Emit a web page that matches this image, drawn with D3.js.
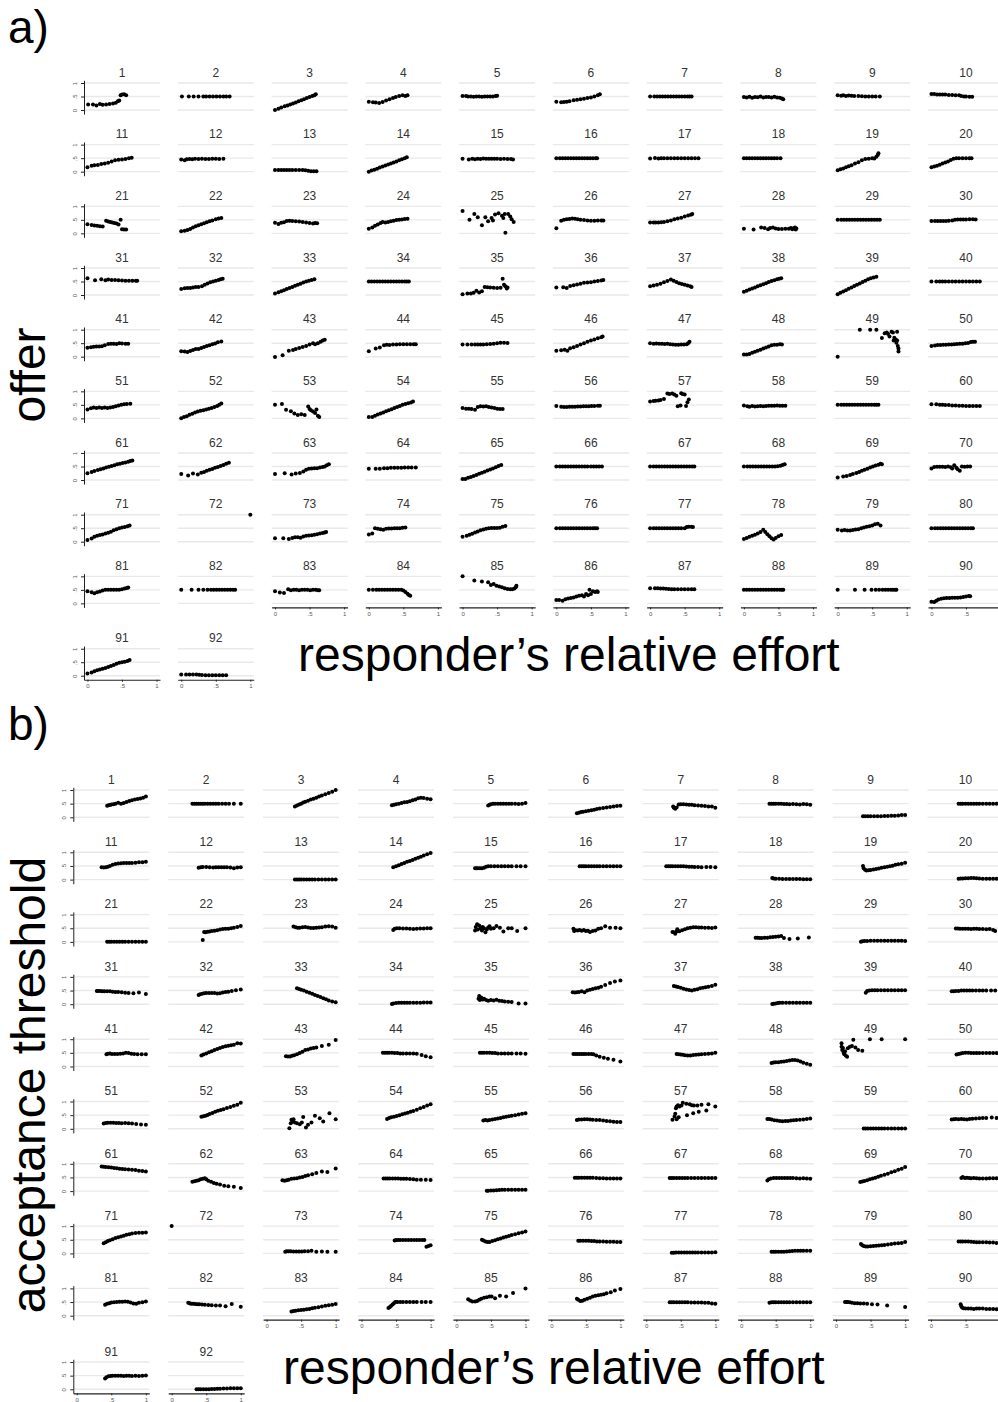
<!DOCTYPE html>
<html>
<head>
<meta charset="utf-8">
<script src="https://cdn.jsdelivr.net/npm/d3@7/dist/d3.min.js"></script>
<style>
  body { margin: 0; background: #fff; }
  svg { display: block; font-family: "Liberation Sans", Arial, sans-serif; }
</style>
</head>
<body>
<div id="chart"></div>
<script>
// responder's relative effort (x) vs. offer (panel a), one small plot per subject
var offerPts = [
  [[.01,.2],[.08,.2],[.13,.17],[.18,.22],[.22,.19],[.27,.2],[.32,.22],[.37,.24],[.41,.27],[.44,.32],[.46,.35],[.48,.55],[.5,.57],[.53,.58],[.56,.55]],
  [[.01,.5],[.11,.5],[.18,.5],[.25,.5],[.32,.5],[.36,.5],[.41,.5],[.46,.5],[.51,.5],[.56,.5],[.61,.5],[.65,.5],[.7,.5]],
  [[0,0],[.05,.05],[.09,.09],[.14,.14],[.18,.17],[.22,.2],[.26,.24],[.3,.28],[.34,.32],[.38,.36],[.42,.4],[.46,.44],[.5,.48],[.54,.52],[.57,.55],[.59,.58]],
  [[0,.31],[.06,.29],[.1,.28],[.15,.26],[.2,.3],[.25,.35],[.3,.4],[.35,.44],[.39,.48],[.44,.52],[.49,.55],[.53,.52],[.56,.55]],
  [[0,.52],[.05,.52],[.08,.5],[.12,.5],[.16,.49],[.2,.5],[.24,.5],[.28,.49],[.32,.5],[.36,.5],[.4,.5],[.44,.5],[.48,.52],[.5,.53]],
  [[0,.31],[.07,.29],[.11,.3],[.15,.31],[.19,.32],[.25,.36],[.3,.38],[.35,.4],[.4,.42],[.45,.44],[.5,.46],[.55,.5],[.6,.55],[.63,.58]],
  [[0,.5],[.06,.5],[.1,.5],[.14,.5],[.18,.5],[.22,.5],[.26,.5],[.3,.5],[.34,.5],[.38,.5],[.42,.5],[.46,.5],[.5,.5],[.54,.5],[.57,.5],[.6,.5]],
  [[0,.48],[.04,.46],[.08,.49],[.12,.45],[.16,.48],[.2,.47],[.24,.5],[.28,.46],[.32,.48],[.36,.48],[.4,.46],[.44,.49],[.48,.46],[.52,.45],[.55,.43],[.57,.4]],
  [[0,.55],[.05,.53],[.08,.55],[.12,.52],[.16,.54],[.2,.53],[.24,.52],[.3,.52],[.35,.51],[.4,.5],[.45,.5],[.5,.5],[.55,.5],[.61,.5]],
  [[0,.59],[.04,.59],[.08,.57],[.12,.57],[.16,.57],[.2,.57],[.25,.56],[.3,.56],[.35,.55],[.4,.55],[.43,.52],[.47,.5],[.5,.5],[.55,.49],[.59,.49]],
  [[0,.16],[.06,.22],[.1,.24],[.15,.25],[.2,.28],[.25,.3],[.3,.33],[.35,.38],[.4,.42],[.45,.44],[.5,.45],[.55,.47],[.6,.5],[.64,.52]],
  [[0,.45],[.05,.42],[.08,.46],[.12,.47],[.16,.46],[.2,.48],[.25,.47],[.3,.48],[.35,.47],[.4,.47],[.45,.48],[.5,.48],[.55,.47],[.61,.48]],
  [[0,.06],[.05,.06],[.09,.06],[.13,.06],[.17,.06],[.21,.06],[.25,.06],[.3,.06],[.35,.06],[.4,.06],[.44,.05],[.48,.03],[.52,.02],[.56,.02],[.6,.02]],
  [[0,0],[.04,.04],[.08,.07],[.12,.11],[.16,.15],[.2,.19],[.24,.23],[.28,.27],[.32,.3],[.36,.34],[.4,.38],[.44,.42],[.48,.46],[.52,.5],[.55,.53]],
  [[0,.48],[.09,.45],[.14,.48],[.18,.46],[.22,.48],[.26,.47],[.3,.49],[.34,.48],[.38,.48],[.42,.48],[.46,.48],[.5,.48],[.55,.47],[.6,.48],[.65,.47],[.7,.47],[.73,.45]],
  [[0,.5],[.05,.5],[.09,.5],[.13,.5],[.17,.5],[.21,.5],[.25,.5],[.29,.5],[.33,.5],[.37,.5],[.41,.5],[.45,.5],[.49,.5],[.53,.5],[.57,.5],[.59,.5]],
  [[0,.49],[.07,.51],[.12,.49],[.16,.5],[.2,.5],[.25,.5],[.3,.5],[.35,.5],[.4,.5],[.45,.5],[.5,.5],[.55,.5],[.6,.5],[.65,.5],[.7,.5]],
  [[0,.5],[.04,.5],[.08,.5],[.12,.5],[.16,.5],[.2,.5],[.24,.5],[.28,.5],[.32,.5],[.36,.5],[.4,.5],[.44,.5],[.48,.5],[.53,.5]],
  [[0,.05],[.04,.09],[.08,.12],[.12,.16],[.16,.2],[.2,.24],[.25,.3],[.3,.35],[.35,.42],[.4,.47],[.45,.48],[.5,.5],[.53,.49],[.56,.55],[.58,.62],[.59,.68]],
  [[0,.16],[.04,.19],[.08,.22],[.12,.26],[.16,.3],[.2,.34],[.24,.38],[.28,.43],[.32,.48],[.36,.5],[.4,.5],[.45,.5],[.5,.5],[.55,.5],[.58,.5]],
  [[0,.34],[.06,.31],[.1,.29],[.14,.28],[.18,.26],[.22,.25],[.27,.47],[.3,.44],[.33,.42],[.36,.4],[.39,.38],[.42,.36],[.45,.33],[.48,.5],[.5,.15],[.53,.14],[.56,.14]],
  [[0,.08],[.05,.1],[.09,.12],[.13,.16],[.17,.22],[.21,.26],[.25,.3],[.29,.34],[.33,.37],[.37,.41],[.41,.45],[.45,.48],[.5,.52],[.54,.55],[.58,.57]],
  [[0,.39],[.05,.35],[.09,.39],[.13,.41],[.17,.46],[.21,.47],[.25,.46],[.3,.45],[.35,.44],[.4,.42],[.45,.4],[.5,.38],[.55,.36],[.58,.38],[.61,.37]],
  [[0,.17],[.05,.22],[.09,.28],[.13,.33],[.17,.38],[.2,.42],[.24,.4],[.28,.42],[.32,.45],[.36,.47],[.4,.49],[.44,.5],[.48,.51],[.52,.53],[.56,.54]],
  [[0,.83],[.1,.5],[.17,.72],[.22,.6],[.28,.3],[.33,.6],[.37,.45],[.42,.57],[.44,.48],[.47,.7],[.52,.74],[.57,.65],[.59,.57],[.61,.72],[.62,.02],[.66,.72],[.69,.62],[.71,.52],[.74,.42]],
  [[0,.19],[.07,.47],[.11,.5],[.15,.52],[.19,.53],[.23,.55],[.27,.54],[.31,.52],[.35,.5],[.4,.49],[.45,.48],[.5,.47],[.55,.47],[.6,.48],[.65,.48],[.68,.48]],
  [[0,.4],[.05,.4],[.08,.4],[.12,.4],[.16,.41],[.2,.42],[.25,.45],[.3,.48],[.35,.52],[.4,.55],[.45,.58],[.5,.62],[.55,.66],[.59,.69],[.61,.72]],
  [[0,.17],[.14,.14],[.25,.22],[.3,.2],[.35,.15],[.38,.2],[.42,.22],[.46,.18],[.5,.16],[.55,.16],[.6,.17],[.65,.17],[.68,.2],[.7,.15],[.72,.19],[.74,.22],[.75,.14],[.76,.18]],
  [[0,.5],[.05,.5],[.09,.5],[.13,.5],[.17,.5],[.21,.5],[.25,.5],[.29,.5],[.33,.5],[.37,.5],[.41,.5],[.45,.5],[.49,.5],[.53,.5],[.57,.5],[.61,.5]],
  [[0,.46],[.05,.46],[.09,.46],[.13,.46],[.17,.46],[.21,.46],[.25,.47],[.3,.48],[.34,.5],[.38,.51],[.42,.51],[.46,.51],[.5,.51],[.55,.52],[.6,.52],[.64,.51]],
  [[0,.62],[.11,.55],[.2,.58],[.26,.55],[.3,.57],[.35,.56],[.4,.56],[.45,.55],[.5,.54],[.55,.53],[.6,.53],[.65,.53],[.7,.53],[.72,.53]],
  [[0,.22],[.05,.25],[.09,.26],[.13,.26],[.17,.28],[.21,.3],[.25,.3],[.3,.32],[.34,.38],[.38,.43],[.42,.47],[.46,.5],[.5,.53],[.54,.56],[.57,.58],[.6,.6]],
  [[0,.06],[.05,.1],[.09,.14],[.13,.18],[.17,.22],[.21,.26],[.25,.3],[.29,.34],[.33,.38],[.37,.42],[.41,.46],[.45,.5],[.49,.53],[.53,.56],[.57,.58]],
  [[0,.5],[.04,.5],[.08,.5],[.12,.5],[.16,.5],[.2,.5],[.24,.5],[.28,.5],[.32,.5],[.36,.5],[.4,.5],[.44,.5],[.48,.5],[.52,.5],[.55,.5],[.58,.5]],
  [[0,.03],[.07,.06],[.12,.06],[.16,.08],[.2,.16],[.24,.09],[.28,.14],[.32,.3],[.36,.29],[.4,.28],[.45,.27],[.5,.26],[.55,.27],[.58,.6],[.6,.38],[.62,.32],[.64,.24],[.65,.28]],
  [[0,.28],[.1,.29],[.15,.26],[.2,.33],[.25,.36],[.3,.39],[.35,.42],[.4,.45],[.45,.46],[.5,.47],[.55,.5],[.6,.52],[.65,.54],[.68,.56]],
  [[0,.32],[.05,.35],[.1,.38],[.15,.42],[.2,.47],[.25,.52],[.3,.57],[.34,.53],[.38,.48],[.42,.44],[.46,.41],[.5,.38],[.54,.35],[.58,.32],[.6,.3]],
  [[0,.12],[.04,.16],[.08,.2],[.12,.24],[.16,.28],[.2,.32],[.24,.36],[.28,.4],[.32,.44],[.36,.48],[.4,.52],[.44,.55],[.48,.58],[.51,.6],[.54,.62]],
  [[0,.03],[.04,.08],[.08,.13],[.12,.18],[.16,.23],[.2,.28],[.24,.33],[.28,.38],[.32,.43],[.36,.48],[.4,.53],[.44,.58],[.48,.62],[.52,.65],[.56,.68]],
  [[0,.5],[.07,.5],[.12,.5],[.16,.5],[.2,.5],[.25,.5],[.3,.5],[.35,.5],[.4,.5],[.45,.5],[.5,.5],[.55,.5],[.6,.5],[.65,.5],[.7,.5]],
  [[0,.33],[.05,.35],[.09,.37],[.13,.38],[.17,.38],[.21,.39],[.25,.42],[.3,.47],[.34,.48],[.38,.48],[.42,.47],[.46,.5],[.5,.49],[.55,.48],[.59,.48]],
  [[0,.2],[.05,.19],[.09,.17],[.13,.21],[.17,.25],[.21,.28],[.25,.28],[.29,.32],[.33,.36],[.37,.4],[.41,.42],[.45,.46],[.49,.49],[.53,.53],[.58,.56]],
  [[0,-.01],[.11,.05],[.2,.22],[.26,.25],[.3,.28],[.35,.32],[.4,.36],[.45,.4],[.5,.45],[.55,.5],[.58,.46],[.62,.5],[.66,.55],[.69,.6],[.72,.63]],
  [[0,.2],[.1,.3],[.16,.34],[.22,.42],[.26,.44],[.3,.43],[.35,.45],[.4,.45],[.45,.46],[.5,.46],[.55,.46],[.6,.46],[.65,.46],[.68,.46]],
  [[0,.45],[.07,.45],[.13,.45],[.18,.45],[.22,.45],[.26,.45],[.3,.45],[.35,.46],[.4,.47],[.45,.48],[.5,.5],[.55,.52],[.6,.52],[.65,.51]],
  [[0,.22],[.07,.24],[.12,.26],[.16,.22],[.2,.31],[.25,.35],[.3,.4],[.35,.45],[.4,.5],[.45,.55],[.5,.6],[.55,.64],[.6,.68],[.65,.72],[.67,.75]],
  [[0,.5],[.05,.48],[.09,.49],[.13,.48],[.17,.48],[.21,.47],[.25,.48],[.29,.46],[.33,.45],[.37,.44],[.41,.44],[.45,.45],[.49,.45],[.53,.46],[.55,.5],[.57,.55]],
  [[0,.08],[.04,.08],[.08,.1],[.12,.15],[.16,.18],[.2,.22],[.24,.26],[.28,.3],[.32,.34],[.36,.38],[.4,.42],[.44,.44],[.48,.44],[.52,.46],[.55,.45]],
  [[0,0],[.32,1],[.47,1],[.56,1],[.64,.69],[.68,.87],[.71,.9],[.73,.84],[.75,.75],[.78,.92],[.8,.9],[.81,.6],[.82,.7],[.84,.64],[.85,.52],[.86,.6],[.87,.4],[.88,.3],[.88,.19],[.86,.92]],
  [[0,.4],[.05,.41],[.09,.43],[.13,.43],[.17,.44],[.21,.44],[.25,.45],[.29,.45],[.33,.46],[.37,.47],[.41,.48],[.45,.48],[.49,.5],[.53,.51],[.57,.54],[.6,.55],[.63,.55]],
  [[0,.33],[.05,.37],[.09,.4],[.13,.38],[.17,.4],[.21,.38],[.25,.4],[.29,.38],[.33,.4],[.37,.42],[.41,.45],[.45,.48],[.49,.5],[.53,.52],[.57,.53],[.62,.54]],
  [[0,0],[.04,.05],[.08,.08],[.12,.13],[.16,.17],[.2,.22],[.24,.25],[.28,.28],[.32,.3],[.36,.33],[.4,.36],[.44,.38],[.48,.42],[.52,.46],[.55,.5],[.58,.55]],
  [[0,.5],[.1,.53],[.16,.32],[.23,.26],[.28,.18],[.33,.12],[.38,.15],[.43,.12],[.48,.44],[.5,.35],[.52,.3],[.55,.25],[.58,.2],[.6,.33],[.62,.1],[.64,.05]],
  [[0,.05],[.05,.05],[.09,.1],[.13,.14],[.17,.18],[.21,.22],[.25,.26],[.29,.3],[.33,.34],[.37,.38],[.41,.42],[.45,.46],[.49,.5],[.53,.53],[.57,.56],[.61,.59],[.64,.62]],
  [[0,.38],[.05,.36],[.09,.36],[.13,.35],[.18,.32],[.22,.42],[.26,.45],[.3,.44],[.34,.45],[.38,.42],[.42,.4],[.46,.38],[.5,.36],[.54,.35],[.58,.35]],
  [[0,.46],[.07,.43],[.11,.42],[.15,.42],[.19,.43],[.23,.43],[.27,.43],[.31,.44],[.35,.44],[.39,.45],[.43,.45],[.47,.45],[.51,.46],[.55,.46],[.6,.47],[.63,.47]],
  [[0,.62],[.05,.64],[.08,.65],[.12,.66],[.15,.68],[.2,.72],[.25,.92],[.28,.9],[.32,.92],[.35,.88],[.38,.84],[.45,.93],[.47,.9],[.5,.88],[.4,.45],[.44,.48],[.52,.46],[.54,.6],[.56,.7]],
  [[0,.48],[.05,.45],[.08,.43],[.12,.46],[.16,.44],[.2,.45],[.24,.46],[.28,.45],[.32,.46],[.36,.47],[.4,.47],[.44,.47],[.48,.48],[.52,.47],[.56,.47],[.6,.47]],
  [[0,.5],[.05,.5],[.09,.5],[.13,.5],[.17,.5],[.21,.5],[.25,.5],[.29,.5],[.33,.5],[.37,.5],[.41,.5],[.45,.5],[.49,.5],[.53,.5],[.56,.5],[.59,.5]],
  [[0,.52],[.07,.52],[.12,.5],[.16,.5],[.2,.49],[.25,.49],[.3,.48],[.35,.48],[.4,.47],[.45,.47],[.5,.46],[.55,.46],[.6,.46],[.65,.46],[.7,.46]],
  [[0,.25],[.06,.3],[.1,.33],[.15,.37],[.19,.4],[.23,.43],[.27,.46],[.31,.49],[.35,.52],[.39,.55],[.43,.58],[.47,.6],[.51,.63],[.55,.65],[.59,.68],[.62,.7],[.65,.72]],
  [[0,.22],[.1,.17],[.17,.24],[.24,.2],[.29,.27],[.33,.3],[.37,.34],[.41,.38],[.45,.41],[.49,.45],[.53,.48],[.57,.52],[.61,.56],[.65,.6],[.69,.64]],
  [[0,.22],[.14,.25],[.24,.2],[.3,.24],[.36,.26],[.41,.32],[.45,.38],[.49,.42],[.53,.43],[.57,.44],[.61,.44],[.65,.46],[.69,.48],[.72,.5],[.75,.55],[.78,.58]],
  [[0,.42],[.1,.42],[.16,.42],[.22,.44],[.27,.44],[.32,.45],[.37,.45],[.42,.45],[.47,.45],[.52,.46],[.57,.46],[.62,.46],[.68,.46]],
  [[0,.04],[.04,.04],[.08,.08],[.12,.11],[.16,.15],[.2,.19],[.24,.23],[.28,.27],[.32,.31],[.36,.35],[.4,.39],[.44,.43],[.48,.47],[.52,.52],[.56,.56]],
  [[0,.5],[.05,.5],[.09,.5],[.13,.5],[.17,.5],[.21,.5],[.25,.5],[.29,.5],[.33,.5],[.37,.5],[.41,.5],[.45,.5],[.5,.5],[.54,.5],[.58,.5],[.62,.5],[.66,.5]],
  [[0,.5],[.05,.5],[.09,.5],[.13,.5],[.17,.5],[.21,.5],[.25,.5],[.29,.5],[.33,.5],[.37,.5],[.41,.5],[.45,.5],[.49,.5],[.53,.5],[.57,.5],[.61,.5],[.64,.5]],
  [[0,.5],[.05,.5],[.09,.5],[.13,.5],[.17,.5],[.21,.5],[.25,.5],[.29,.5],[.33,.5],[.37,.5],[.41,.5],[.45,.5],[.49,.51],[.53,.53],[.56,.56],[.59,.58]],
  [[0,.09],[.08,.13],[.13,.15],[.18,.19],[.22,.22],[.27,.26],[.31,.3],[.35,.34],[.39,.38],[.43,.42],[.47,.46],[.51,.5],[.55,.54],[.59,.57],[.62,.6],[.64,.58]],
  [[0,.43],[.04,.48],[.08,.49],[.12,.49],[.16,.49],[.2,.48],[.24,.5],[.28,.47],[.3,.43],[.33,.55],[.36,.45],[.38,.4],[.41,.34],[.44,.5],[.48,.49],[.52,.5],[.56,.5]],
  [[0,.06],[.06,.12],[.1,.18],[.14,.22],[.18,.25],[.22,.27],[.26,.3],[.3,.33],[.34,.37],[.38,.42],[.42,.46],[.46,.5],[.5,.53],[.54,.54],[.58,.57],[.61,.6]],
  [[1,1]],
  [[0,.13],[.12,.13],[.2,.1],[.25,.14],[.29,.16],[.33,.16],[.37,.15],[.41,.19],[.45,.22],[.49,.23],[.53,.24],[.57,.26],[.61,.28],[.65,.3],[.69,.32],[.72,.34],[.74,.36]],
  [[0,.27],[.05,.3],[.09,.5],[.13,.48],[.17,.46],[.21,.44],[.25,.48],[.29,.49],[.33,.49],[.37,.5],[.41,.5],[.45,.5],[.49,.52],[.53,.53]],
  [[0,.18],[.06,.22],[.1,.26],[.14,.29],[.18,.34],[.22,.38],[.26,.42],[.3,.45],[.34,.48],[.38,.5],[.42,.51],[.46,.51],[.5,.51],[.54,.52],[.58,.55],[.62,.58]],
  [[0,.5],[.05,.5],[.09,.5],[.13,.5],[.17,.5],[.21,.5],[.25,.5],[.29,.5],[.33,.5],[.37,.5],[.41,.5],[.45,.5],[.49,.5],[.53,.5],[.56,.5],[.59,.5]],
  [[0,.5],[.05,.5],[.09,.5],[.13,.5],[.17,.5],[.21,.5],[.25,.5],[.29,.5],[.33,.5],[.37,.5],[.41,.5],[.45,.5],[.5,.5],[.53,.54],[.56,.55],[.6,.55],[.62,.54]],
  [[0,.1],[.04,.14],[.08,.18],[.12,.22],[.16,.26],[.2,.3],[.24,.36],[.28,.44],[.31,.36],[.34,.28],[.37,.2],[.4,.13],[.43,.08],[.46,.14],[.5,.2],[.54,.25]],
  [[0,.44],[.06,.41],[.1,.43],[.14,.41],[.18,.41],[.22,.43],[.26,.45],[.3,.46],[.34,.5],[.38,.53],[.42,.55],[.46,.57],[.5,.6],[.54,.65],[.58,.66],[.62,.6]],
  [[0,.5],[.05,.5],[.09,.5],[.13,.5],[.17,.5],[.21,.5],[.25,.5],[.29,.5],[.33,.5],[.37,.5],[.41,.5],[.45,.5],[.49,.5],[.53,.5],[.57,.5],[.6,.5]],
  [[0,.45],[.06,.41],[.1,.37],[.14,.41],[.18,.44],[.22,.48],[.26,.5],[.3,.5],[.34,.5],[.38,.5],[.42,.5],[.46,.5],[.5,.52],[.54,.55],[.57,.57],[.59,.59]],
  [[0,.5],[.15,.5],[.25,.5],[.32,.5],[.38,.5],[.43,.5],[.47,.5],[.51,.5],[.55,.5],[.59,.5],[.63,.5],[.67,.5],[.71,.5],[.75,.5],[.78,.5]],
  [[0,.45],[.07,.4],[.13,.38],[.19,.52],[.23,.49],[.27,.5],[.31,.5],[.35,.49],[.39,.5],[.43,.5],[.47,.5],[.51,.49],[.55,.5],[.59,.5],[.62,.49],[.64,.49]],
  [[0,.5],[.06,.5],[.11,.5],[.15,.5],[.19,.5],[.23,.5],[.27,.5],[.31,.5],[.35,.5],[.39,.5],[.43,.5],[.47,.5],[.5,.48],[.53,.42],[.56,.36],[.58,.31],[.6,.28]],
  [[0,1],[.17,.85],[.28,.81],[.37,.78],[.41,.68],[.45,.72],[.49,.65],[.53,.62],[.57,.6],[.61,.56],[.65,.53],[.69,.52],[.72,.52],[.75,.55],[.77,.6],[.78,.65]],
  [[0,.12],[.04,.12],[.09,.1],[.13,.15],[.17,.18],[.21,.2],[.25,.22],[.29,.25],[.33,.28],[.37,.3],[.4,.25],[.43,.35],[.46,.3],[.48,.5],[.5,.35],[.53,.45],[.56,.42],[.59,.45],[.6,.42]],
  [[0,.56],[.07,.56],[.11,.56],[.15,.55],[.19,.55],[.23,.54],[.27,.53],[.31,.52],[.35,.52],[.4,.52],[.45,.52],[.5,.52],[.55,.52],[.6,.52],[.64,.52]],
  [[0,.5],[.04,.5],[.08,.5],[.12,.5],[.16,.5],[.2,.5],[.24,.5],[.28,.5],[.32,.5],[.36,.5],[.4,.5],[.44,.5],[.48,.5],[.52,.5],[.55,.5],[.57,.5]],
  [[0,.5],[.25,.5],[.39,.5],[.49,.5],[.55,.5],[.6,.5],[.65,.5],[.69,.5],[.73,.5],[.77,.5],[.8,.5],[.83,.5],[.85,.5]],
  [[0,.06],[.04,.05],[.07,.1],[.1,.14],[.14,.17],[.18,.19],[.22,.2],[.26,.2],[.3,.21],[.34,.21],[.38,.21],[.42,.22],[.46,.24],[.5,.25],[.54,.27],[.56,.26]],
  [[0,.08],[.06,.12],[.1,.17],[.14,.2],[.18,.23],[.22,.26],[.26,.29],[.3,.32],[.34,.36],[.38,.4],[.42,.44],[.46,.48],[.5,.5],[.54,.52],[.58,.55],[.61,.58]],
  [[0,.05],[.07,.05],[.12,.05],[.17,.05],[.22,.05],[.26,.04],[.3,.03],[.35,.02],[.4,.02],[.45,.02],[.5,.02],[.55,.02],[.6,.02],[.65,.02]]
];

// responder's relative effort (x) vs. acceptance threshold (panel b)
var thresholdPts = [
  [[.44,.42],[.46,.44],[.48,.45],[.5,.47],[.53,.48],[.56,.5],[.6,.53],[.64,.5],[.68,.52],[.72,.56],[.76,.6],[.8,.62],[.84,.65],[.88,.67],[.92,.69],[.96,.72],[1,.76]],
  [[.3,.5],[.33,.5],[.36,.5],[.39,.5],[.42,.5],[.45,.5],[.48,.5],[.52,.5],[.56,.5],[.6,.5],[.64,.5],[.68,.5],[.73,.5],[.78,.5],[.83,.5],[.9,.5],[1,.5]],
  [[.41,.4],[.44,.43],[.47,.47],[.5,.5],[.53,.54],[.56,.57],[.6,.61],[.64,.65],[.68,.68],[.72,.72],[.76,.76],[.8,.8],[.85,.84],[.9,.89],[.95,.94],[1,1]],
  [[.44,.44],[.47,.46],[.5,.48],[.54,.5],[.58,.52],[.62,.55],[.66,.56],[.7,.59],[.74,.62],[.78,.65],[.82,.7],[.86,.72],[.9,.71],[.95,.68],[1,.66]],
  [[.46,.43],[.48,.46],[.5,.48],[.53,.5],[.56,.5],[.6,.5],[.64,.5],[.68,.5],[.72,.5],[.76,.5],[.8,.5],[.85,.5],[.9,.49],[.95,.5],[1,.52]],
  [[.37,.15],[.4,.17],[.43,.19],[.46,.2],[.5,.22],[.54,.24],[.58,.26],[.62,.28],[.66,.3],[.7,.32],[.75,.34],[.8,.36],[.85,.38],[.9,.4],[.95,.41],[1,.42]],
  [[.39,.4],[.4,.35],[.42,.31],[.44,.36],[.47,.47],[.5,.48],[.54,.48],[.58,.47],[.62,.46],[.66,.46],[.7,.44],[.75,.43],[.8,.42],[.85,.41],[.9,.4],[.95,.4],[1,.35]],
  [[.41,.5],[.44,.5],[.47,.5],[.5,.5],[.54,.5],[.58,.5],[.62,.49],[.66,.49],[.7,.48],[.75,.49],[.8,.48],[.85,.47],[.9,.49],[.95,.48],[1,.46]],
  [[.39,.04],[.42,.04],[.46,.04],[.5,.04],[.55,.04],[.6,.04],[.65,.04],[.7,.05],[.75,.05],[.8,.06],[.85,.06],[.9,.07],[.95,.08],[1,.08]],
  [[.4,.5],[.43,.5],[.46,.5],[.5,.5],[.54,.5],[.58,.5],[.62,.5],[.66,.5],[.7,.5],[.75,.5],[.8,.5],[.85,.5],[.9,.5],[.95,.5],[1,.5]],
  [[.36,.45],[.39,.44],[.42,.45],[.45,.47],[.48,.5],[.52,.54],[.56,.57],[.6,.59],[.64,.6],[.68,.61],[.72,.61],[.76,.61],[.8,.61],[.85,.62],[.9,.64],[.95,.64],[1,.65]],
  [[.39,.43],[.42,.45],[.45,.46],[.5,.46],[.55,.45],[.6,.44],[.64,.45],[.68,.45],[.72,.45],[.76,.45],[.8,.45],[.85,.44],[.9,.42],[.95,.44],[1,.45]],
  [[.41,0],[.44,0],[.47,0],[.5,0],[.54,0],[.58,0],[.62,0],[.66,0],[.7,0],[.75,0],[.8,0],[.85,0],[.9,0],[.95,0],[1,0]],
  [[.46,.45],[.5,.49],[.54,.53],[.58,.57],[.62,.61],[.66,.65],[.7,.68],[.74,.72],[.78,.76],[.82,.8],[.86,.84],[.9,.88],[.95,.93],[1,.97]],
  [[.27,.42],[.29,.42],[.31,.42],[.34,.42],[.37,.42],[.4,.43],[.43,.47],[.46,.49],[.5,.49],[.55,.49],[.6,.49],[.65,.49],[.7,.49],[.75,.49],[.8,.49],[.87,.49],[.93,.49],[1,.49]],
  [[.41,.49],[.44,.49],[.47,.49],[.5,.49],[.54,.49],[.58,.49],[.62,.49],[.66,.49],[.7,.49],[.75,.49],[.8,.49],[.85,.49],[.9,.49],[.95,.49],[1,.49]],
  [[.29,.49],[.32,.49],[.35,.49],[.38,.49],[.42,.49],[.46,.49],[.5,.49],[.54,.49],[.58,.48],[.62,.47],[.66,.47],[.7,.46],[.75,.46],[.8,.45],[.87,.46],[.93,.46],[1,.45]],
  [[.45,.06],[.47,.04],[.5,.03],[.55,.03],[.6,.02],[.65,.02],[.7,.02],[.75,.02],[.8,.02],[.85,.02],[.9,.01],[.95,.01],[1,.01]],
  [[.39,.5],[.4,.42],[.42,.36],[.44,.33],[.47,.34],[.5,.35],[.54,.37],[.58,.39],[.62,.41],[.66,.43],[.7,.45],[.74,.47],[.78,.49],[.82,.51],[.86,.54],[.9,.56],[.95,.58],[1,.62]],
  [[.4,.03],[.43,.04],[.46,.04],[.5,.05],[.54,.05],[.58,.06],[.62,.06],[.66,.05],[.7,.04],[.75,.03],[.8,.03],[.85,.03],[.9,.03],[.95,.03],[1,.03]],
  [[.44,.01],[.47,.01],[.5,.01],[.54,.01],[.58,.01],[.62,.01],[.66,.01],[.7,.01],[.75,.01],[.8,.01],[.85,.01],[.9,.01],[.95,.01],[1,.01]],
  [[.45,.07],[.47,.36],[.49,.35],[.52,.37],[.55,.38],[.58,.4],[.62,.41],[.66,.43],[.7,.45],[.74,.47],[.78,.48],[.82,.48],[.86,.5],[.9,.52],[.95,.55],[1,.58]],
  [[.39,.56],[.42,.54],[.45,.52],[.48,.52],[.52,.54],[.56,.55],[.6,.53],[.64,.51],[.68,.51],[.72,.52],[.76,.53],[.8,.54],[.85,.56],[.9,.57],[.95,.56],[1,.52]],
  [[.46,.44],[.48,.48],[.51,.5],[.55,.5],[.6,.49],[.65,.49],[.7,.48],[.75,.47],[.8,.48],[.85,.49],[.9,.49],[.95,.5],[1,.5]],
  [[.27,.42],[.28,.55],[.3,.65],[.31,.45],[.33,.6],[.35,.5],[.37,.42],[.38,.55],[.4,.5],[.42,.35],[.44,.45],[.46,.53],[.48,.57],[.5,.48],[.54,.5],[.58,.58],[.63,.52],[.68,.38],[.75,.5],[.8,.5],[.88,.4],[1,.5]],
  [[.32,.48],[.33,.4],[.35,.43],[.38,.42],[.41,.44],[.44,.41],[.47,.44],[.5,.4],[.53,.41],[.56,.36],[.6,.4],[.64,.42],[.68,.48],[.72,.5],[.78,.57],[.85,.52],[.93,.52],[1,.5]],
  [[.38,.36],[.4,.35],[.42,.3],[.44,.38],[.45,.46],[.48,.39],[.52,.43],[.56,.46],[.6,.5],[.64,.52],[.68,.54],[.72,.54],[.76,.53],[.8,.53],[.85,.52],[.9,.52],[.95,.51],[1,.53]],
  [[.21,.15],[.24,.15],[.27,.14],[.3,.14],[.34,.15],[.38,.15],[.42,.17],[.46,.18],[.5,.19],[.54,.2],[.58,.22],[.62,.14],[.7,.11],[.82,.12],[.98,.16]],
  [[.36,.01],[.38,.02],[.41,.03],[.45,.03],[.5,.04],[.55,.04],[.6,.04],[.65,.04],[.7,.04],[.75,.04],[.8,.04],[.85,.04],[.9,.04],[.95,.04],[1,.03]],
  [[.36,.49],[.39,.49],[.42,.48],[.46,.48],[.5,.48],[.54,.48],[.58,.47],[.62,.48],[.66,.48],[.7,.47],[.75,.47],[.8,.46],[.85,.47],[.9,.44],[.93,.4]],
  [[.29,.48],[.31,.48],[.34,.48],[.37,.47],[.4,.47],[.44,.47],[.48,.47],[.52,.46],[.56,.45],[.6,.45],[.65,.44],[.7,.42],[.75,.41],[.82,.4],[.9,.43],[1,.37]],
  [[.39,.34],[.41,.36],[.44,.38],[.47,.4],[.5,.41],[.54,.41],[.58,.41],[.62,.41],[.66,.39],[.7,.4],[.74,.43],[.78,.45],[.82,.46],[.87,.48],[.93,.51],[1,.54]],
  [[.44,.58],[.47,.56],[.5,.53],[.54,.5],[.58,.46],[.62,.42],[.66,.38],[.7,.34],[.74,.3],[.78,.26],[.82,.22],[.86,.18],[.9,.14],[.95,.1],[1,.07]],
  [[.44,.01],[.46,.03],[.5,.04],[.54,.05],[.58,.05],[.62,.05],[.66,.05],[.7,.05],[.75,.05],[.8,.05],[.85,.05],[.9,.06],[.95,.06],[1,.06]],
  [[.32,.2],[.33,.3],[.34,.15],[.36,.25],[.38,.17],[.4,.2],[.43,.15],[.46,.13],[.5,.15],[.54,.14],[.58,.16],[.62,.13],[.66,.12],[.7,.1],[.75,.09],[.8,.08],[.9,.03],[1,.03]],
  [[.31,.44],[.34,.43],[.37,.44],[.4,.45],[.44,.47],[.48,.44],[.52,.5],[.56,.53],[.6,.56],[.64,.58],[.68,.6],[.72,.64],[.78,.7],[.85,.78],[.92,.83],[1,.87]],
  [[.4,.67],[.43,.65],[.46,.63],[.5,.6],[.54,.57],[.58,.54],[.62,.52],[.66,.5],[.7,.53],[.74,.55],[.78,.58],[.82,.6],[.86,.62],[.9,.64],[.95,.67],[1,.71]],
  [[.45,.01],[.47,.02],[.5,.03],[.53,.04],[.56,.05],[.6,.05],[.65,.05],[.7,.05],[.75,.05],[.8,.05],[.85,.05],[.9,.05],[.95,.05],[1,.05]],
  [[.43,.42],[.45,.48],[.48,.5],[.52,.51],[.56,.51],[.6,.51],[.65,.51],[.7,.51],[.75,.51],[.8,.51],[.85,.51],[.9,.51],[.95,.51],[1,.51]],
  [[.3,.47],[.33,.47],[.36,.48],[.4,.48],[.44,.5],[.48,.5],[.52,.5],[.56,.5],[.6,.5],[.65,.5],[.7,.5],[.75,.5],[.8,.5],[.87,.5],[.93,.5],[1,.5]],
  [[.43,.45],[.45,.47],[.48,.48],[.51,.46],[.55,.46],[.59,.46],[.63,.47],[.67,.48],[.71,.5],[.75,.49],[.79,.47],[.83,.46],[.88,.45],[.94,.45],[1,.45]],
  [[.43,.4],[.46,.44],[.5,.48],[.54,.52],[.58,.56],[.62,.6],[.66,.64],[.7,.68],[.74,.71],[.78,.74],[.82,.76],[.86,.78],[.9,.8],[.95,.85],[1,.84]],
  [[.28,.38],[.31,.37],[.34,.37],[.37,.39],[.4,.41],[.44,.45],[.48,.49],[.52,.54],[.56,.6],[.6,.62],[.64,.66],[.68,.68],[.72,.7],[.8,.75],[.9,.8],[1,.97]],
  [[.31,.5],[.34,.5],[.37,.5],[.4,.5],[.44,.5],[.48,.49],[.52,.49],[.56,.48],[.6,.48],[.65,.48],[.7,.48],[.75,.48],[.8,.47],[.87,.42],[.93,.38],[1,.34]],
  [[.34,.5],[.37,.5],[.4,.5],[.44,.5],[.48,.5],[.52,.49],[.56,.49],[.6,.48],[.65,.48],[.7,.48],[.75,.48],[.8,.48],[.87,.48],[.93,.48],[1,.47]],
  [[.32,.46],[.35,.46],[.38,.46],[.41,.46],[.44,.46],[.47,.46],[.5,.46],[.54,.46],[.58,.46],[.61,.45],[.65,.4],[.7,.36],[.76,.32],[.82,.28],[.9,.25],[1,.18]],
  [[.44,.46],[.47,.45],[.5,.44],[.53,.43],[.56,.41],[.6,.4],[.64,.4],[.68,.42],[.72,.43],[.76,.44],[.8,.45],[.85,.46],[.9,.47],[.95,.48],[1,.5]],
  [[.44,.13],[.47,.15],[.5,.16],[.54,.16],[.58,.17],[.62,.18],[.66,.2],[.7,.22],[.74,.24],[.78,.24],[.82,.22],[.86,.18],[.9,.14],[.95,.1],[1,.06]],
  [[.08,.85],[.08,.72],[.09,.6],[.1,.68],[.11,.5],[.12,.45],[.13,.56],[.14,.4],[.16,.36],[.17,.67],[.2,.72],[.23,.75],[.25,.98],[.28,.7],[.32,.6],[.38,.58],[.49,1],[.66,1],[1,1]],
  [[.37,.44],[.4,.46],[.43,.48],[.46,.49],[.5,.5],[.54,.5],[.58,.49],[.62,.49],[.66,.49],[.7,.49],[.75,.49],[.8,.49],[.85,.49],[.9,.49],[.95,.49],[1,.49]],
  [[.39,.19],[.42,.21],[.45,.22],[.49,.22],[.53,.22],[.57,.21],[.61,.21],[.65,.2],[.7,.21],[.75,.2],[.8,.19],[.86,.18],[.93,.16],[1,.15]],
  [[.43,.44],[.46,.46],[.49,.48],[.52,.51],[.55,.54],[.59,.58],[.63,.62],[.67,.66],[.71,.69],[.75,.72],[.8,.76],[.85,.8],[.9,.84],[.95,.88],[1,.95]],
  [[.33,.02],[.35,.2],[.36,.33],[.38,.27],[.39,.35],[.41,.23],[.44,.2],[.48,.17],[.51,.23],[.53,.43],[.57,.05],[.6,.15],[.65,.23],[.7,.48],[.77,.39],[.82,.27],[.91,.57],[1,.35]],
  [[.37,.36],[.4,.4],[.43,.42],[.47,.44],[.51,.47],[.55,.5],[.59,.53],[.63,.56],[.67,.59],[.71,.62],[.75,.65],[.8,.7],[.85,.75],[.9,.8],[.95,.85],[1,.9]],
  [[.39,.3],[.42,.32],[.45,.3],[.48,.32],[.52,.34],[.56,.36],[.6,.38],[.64,.4],[.68,.42],[.72,.44],[.76,.46],[.8,.48],[.85,.5],[.9,.52],[.95,.55],[1,.57]],
  [[.37,.32],[.4,.34],[.44,.34],[.48,.35],[.52,.35],[.56,.34],[.6,.33],[.65,.32],[.7,.32],[.75,.3],[.8,.29],[.85,.28],[.9,.26],[.95,.25],[1,.25]],
  [[.38,.33],[.41,.45],[.42,.55],[.43,.75],[.44,.82],[.46,.86],[.48,.82],[.51,.85],[.53,.95],[.58,.92],[.63,.9],[.66,.86],[.69,.85],[.74,.85],[.8,.88],[.9,.9],[1,.82],[.59,.5],[.68,.57],[.76,.62],[.87,.67],[.44,.35],[.47,.42]],
  [[.38,.36],[.41,.36],[.44,.34],[.48,.31],[.52,.3],[.56,.29],[.6,.28],[.64,.29],[.68,.29],[.72,.3],[.76,.31],[.8,.32],[.85,.33],[.9,.34],[.95,.36],[1,.38]],
  [[.4,.01],[.43,.01],[.46,.01],[.5,.01],[.54,.01],[.58,.01],[.62,.01],[.66,.01],[.7,.01],[.75,.01],[.8,.01],[.85,.01],[.9,.01],[.95,.01],[1,.01]],
  [[.3,.34],[.33,.35],[.36,.36],[.4,.35],[.44,.36],[.48,.35],[.52,.34],[.56,.36],[.6,.37],[.65,.38],[.7,.39],[.75,.4],[.8,.4],[.88,.41],[.95,.4],[1,.4]],
  [[.36,.9],[.39,.89],[.42,.88],[.46,.87],[.5,.86],[.54,.85],[.58,.84],[.62,.82],[.66,.81],[.7,.8],[.75,.79],[.8,.78],[.85,.77],[.9,.75],[.95,.74],[1,.72]],
  [[.3,.34],[.33,.36],[.36,.38],[.39,.4],[.42,.43],[.45,.45],[.48,.47],[.5,.43],[.53,.38],[.57,.34],[.61,.3],[.65,.27],[.7,.24],[.76,.2],[.82,.18],[.9,.16],[1,.11]],
  [[.23,.4],[.26,.38],[.29,.4],[.32,.42],[.36,.45],[.4,.46],[.44,.47],[.48,.5],[.52,.52],[.56,.55],[.6,.58],[.66,.62],[.72,.66],[.8,.72],[.88,.7],[1,.83]],
  [[.32,.46],[.35,.46],[.38,.46],[.41,.46],[.45,.46],[.49,.46],[.53,.46],[.57,.45],[.61,.45],[.65,.45],[.7,.44],[.75,.43],[.8,.42],[.86,.42],[.93,.42],[1,.41]],
  [[.44,.01],[.46,.01],[.5,.02],[.54,.02],[.58,.03],[.62,.04],[.66,.05],[.7,.05],[.75,.05],[.8,.05],[.85,.05],[.9,.05],[.95,.05],[1,.05]],
  [[.34,.49],[.37,.49],[.4,.49],[.44,.49],[.48,.49],[.52,.49],[.56,.49],[.6,.49],[.65,.48],[.7,.47],[.75,.47],[.8,.46],[.85,.46],[.9,.46],[.95,.46],[1,.46]],
  [[.34,.48],[.37,.48],[.4,.48],[.44,.48],[.48,.48],[.52,.48],[.56,.48],[.6,.48],[.65,.48],[.7,.48],[.75,.48],[.8,.48],[.85,.48],[.9,.48],[.95,.48],[1,.48]],
  [[.38,.39],[.4,.43],[.43,.46],[.47,.48],[.51,.48],[.55,.48],[.59,.48],[.63,.48],[.67,.48],[.71,.48],[.75,.48],[.8,.47],[.85,.46],[.9,.47],[.95,.46],[1,.45]],
  [[.35,.33],[.38,.35],[.41,.37],[.45,.4],[.49,.43],[.53,.46],[.57,.49],[.61,.53],[.65,.56],[.7,.6],[.75,.64],[.8,.69],[.85,.73],[.9,.78],[.95,.82],[1,.88]],
  [[.44,.48],[.46,.52],[.49,.48],[.52,.49],[.55,.48],[.58,.47],[.62,.48],[.66,.47],[.7,.46],[.75,.46],[.8,.46],[.85,.47],[.9,.47],[.95,.47],[1,.47]],
  [[.39,.37],[.42,.41],[.45,.45],[.48,.48],[.52,.52],[.56,.56],[.6,.59],[.64,.62],[.68,.65],[.72,.68],[.76,.7],[.8,.73],[.85,.75],[.9,.76],[.95,.76],[1,.77]],
  [[0,1]],
  [[.27,.06],[.29,.08],[.32,.08],[.35,.08],[.39,.07],[.43,.07],[.47,.07],[.51,.07],[.55,.08],[.6,.08],[.65,.1],[.72,.06],[.8,.07],[.88,.06],[1,.06]],
  [[.48,.47],[.5,.49],[.53,.49],[.56,.49],[.6,.49],[.64,.49],[.68,.49],[.72,.49],[.76,.49],[.8,.49],[.84,.49],[.88,.49],[.91,.49],[.94,.24],[.97,.27],[1,.3]],
  [[.37,.5],[.39,.47],[.42,.44],[.45,.42],[.48,.42],[.52,.45],[.56,.48],[.6,.52],[.64,.55],[.68,.58],[.72,.61],[.76,.64],[.8,.67],[.85,.7],[.9,.74],[.95,.77],[1,.8]],
  [[.39,.46],[.42,.46],[.46,.46],[.5,.46],[.54,.46],[.58,.45],[.62,.45],[.66,.44],[.7,.44],[.75,.44],[.8,.43],[.85,.43],[.9,.43],[.95,.42],[1,.42]],
  [[.37,.02],[.4,.02],[.43,.03],[.47,.03],[.51,.03],[.55,.03],[.59,.03],[.63,.03],[.67,.03],[.71,.03],[.75,.03],[.8,.03],[.85,.03],[.9,.03],[.95,.03],[1,.04]],
  [[.44,.06],[.47,.06],[.5,.06],[.54,.06],[.58,.06],[.62,.06],[.66,.07],[.7,.08],[.74,.09],[.78,.1],[.82,.1],[.86,.1],[.9,.1],[.95,.1],[1,.1]],
  [[.36,.34],[.38,.3],[.4,.27],[.43,.25],[.46,.25],[.5,.26],[.54,.27],[.58,.28],[.62,.29],[.66,.3],[.7,.31],[.75,.33],[.8,.34],[.85,.36],[.9,.37],[.95,.38],[1,.42]],
  [[.4,.44],[.43,.44],[.46,.44],[.5,.44],[.54,.44],[.58,.43],[.62,.42],[.66,.41],[.7,.41],[.75,.41],[.8,.41],[.85,.4],[.9,.4],[.95,.38],[1,.37]],
  [[.41,.4],[.44,.44],[.47,.46],[.5,.48],[.54,.49],[.58,.5],[.62,.51],[.66,.51],[.7,.52],[.74,.51],[.78,.48],[.82,.45],[.86,.44],[.9,.47],[.95,.49],[1,.52]],
  [[.24,.47],[.26,.46],[.28,.44],[.31,.44],[.34,.43],[.37,.42],[.4,.42],[.44,.41],[.48,.4],[.53,.39],[.58,.38],[.64,.37],[.7,.37],[.78,.35],[.87,.43],[1,.33]],
  [[.36,.15],[.39,.17],[.42,.18],[.46,.2],[.5,.21],[.54,.22],[.58,.24],[.62,.25],[.66,.27],[.7,.29],[.75,.31],[.8,.34],[.85,.36],[.9,.38],[.95,.4],[1,.43]],
  [[.39,.28],[.41,.32],[.43,.36],[.45,.41],[.47,.46],[.49,.5],[.52,.5],[.56,.5],[.6,.5],[.65,.5],[.7,.5],[.75,.5],[.8,.5],[.87,.5],[.93,.5],[1,.5]],
  [[.17,.6],[.2,.56],[.23,.52],[.27,.52],[.3,.54],[.33,.58],[.36,.62],[.4,.66],[.44,.68],[.48,.7],[.51,.7],[.56,.64],[.63,.73],[.72,.7],[.82,.83],[1,1]],
  [[.37,.62],[.39,.58],[.42,.54],[.45,.55],[.48,.58],[.52,.62],[.56,.66],[.6,.7],[.64,.73],[.68,.75],[.72,.77],[.76,.79],[.8,.82],[.86,.86],[.92,.92],[1,.98]],
  [[.34,.49],[.37,.49],[.4,.49],[.44,.49],[.48,.49],[.52,.49],[.56,.49],[.6,.49],[.65,.48],[.7,.48],[.75,.48],[.8,.48],[.85,.47],[.9,.47],[.95,.45],[1,.44]],
  [[.41,.47],[.44,.49],[.47,.49],[.5,.49],[.54,.49],[.58,.49],[.62,.49],[.66,.49],[.7,.49],[.75,.49],[.8,.49],[.85,.49],[.9,.49],[.95,.49],[1,.49]],
  [[.13,.5],[.15,.5],[.17,.5],[.2,.49],[.23,.47],[.27,.46],[.31,.46],[.35,.45],[.4,.45],[.45,.44],[.52,.42],[.6,.41],[.74,.37],[1,.32]],
  [[.43,.42],[.44,.35],[.45,.3],[.47,.27],[.5,.26],[.54,.26],[.58,.26],[.62,.25],[.66,.26],[.7,.26],[.75,.26],[.8,.25],[.85,.25],[.9,.25],[.95,.24],[1,.24]],
  [[.41,.4],[.43,.44],[.46,.48],[.49,.49],[.52,.5],[.56,.5],[.6,.5],[.64,.5],[.68,.49],[.72,.5],[.76,.5],[.8,.49],[.85,.5],[.9,.49],[.95,.5],[1,.51]],
  [[.36,0],[.39,0],[.42,0],[.46,0],[.5,0],[.54,0],[.58,.01],[.62,.01],[.66,.02],[.7,.02],[.75,.03],[.8,.03],[.85,.04],[.9,.04],[.95,.04],[1,.04]]
];

var tickVals = [0, 0.5, 1];
var tickLabels = ['0', '.5', '1'];
var panelNames = ['a)', 'b)'];
var yTitles = ['offer', 'acceptance threshold'];
var xTitle = 'responder\u2019s relative effort';

var W = 998, H = 1402, cellW = 76;

var panels = [
  {pts: offerPts, colLeft: [84, 928], zero0: 110, rowPitch: 61.67, lastGap: 10.7, yUnit: 27,
   tag: {x: 8, y: 43}, yLab: {x: 45, y: 375}, xLab: {x: 298, y: 671}},
  {pts: thresholdPts, colLeft: [73.3, 927.5], zero0: 817.3, rowPitch: 62.3, lastGap: 11.3, yUnit: 27.3,
   tag: {x: 8, y: 740}, yLab: {x: 45, y: 1085}, xLab: {x: 283, y: 1384}}
];

var svg = d3.select('#chart').append('svg')
    .attr('width', W)
    .attr('height', H);

svg.append('rect').attr('width', W).attr('height', H).attr('fill', '#fff');

panels.forEach(function(p, pi) {
  var g = svg.append('g');
  var colX = d3.scaleLinear().domain([0, 9]).range(p.colLeft);

  p.pts.forEach(function(d, i) {
    var row = Math.floor(i / 10), col = i % 10;
    var left = colX(col);
    var zero = row < 9 ? p.zero0 + row * p.rowPitch : p.zero0 + 9 * p.rowPitch + p.lastGap;
    var x = d3.scaleLinear().domain([-0.05, 1.05]).range([left, left + cellW]);
    var y = d3.scaleLinear().domain([0, 1]).range([zero, zero - p.yUnit]);
    var cell = g.append('g');

    // grid lines
    cell.selectAll('line.grid')
        .data(tickVals)
      .enter().append('line')
        .attr('class', 'grid')
        .attr('x1', left).attr('x2', left + cellW)
        .attr('y1', function(v) { return y(v); })
        .attr('y2', function(v) { return y(v); })
        .attr('stroke', '#e9e9e9')
        .attr('stroke-width', 1.4);

    // subplot number
    cell.append('text')
        .attr('x', left + cellW / 2)
        .attr('y', zero - 33.5)
        .attr('text-anchor', 'middle')
        .attr('font-size', 12)
        .attr('fill', '#333')
        .text(i + 1);

    // y axis on first column
    if (col === 0) {
      var ya = d3.scaleLinear().domain([-0.15, 1.1]).range([y(-0.15), y(1.1)]);
      var ay = cell.append('g')
          .attr('transform', 'translate(' + left + ',0)')
          .call(d3.axisLeft(ya).tickValues(tickVals).tickSize(3).tickSizeOuter(0)
              .tickFormat(function(v, k) { return tickLabels[k]; }));
      ay.select('.domain').attr('stroke', '#222');
      ay.selectAll('.tick line').attr('stroke', '#222');
      ay.selectAll('.tick text')
          .attr('font-size', 6)
          .attr('fill', '#555')
          .attr('font-family', '"Liberation Sans", Arial, sans-serif')
          .attr('text-anchor', 'middle')
          .attr('transform', 'rotate(-90)')
          .attr('x', 0)
          .attr('y', -7)
          .attr('dy', 0);
    }

    // x axis at the bottom of each column
    if ((row === 8 && col >= 2) || row === 9) {
      var xa = d3.scaleLinear().domain([-0.05, 1.05]).range([left, left + cellW]);
      var ax = cell.append('g')
          .attr('transform', 'translate(0,' + (zero + 4) + ')')
          .call(d3.axisBottom(xa).tickValues(tickVals).tickSize(2).tickSizeOuter(0)
              .tickFormat(function(v, k) { return tickLabels[k]; }));
      ax.select('.domain').attr('stroke', '#222').attr('stroke-width', 1.2);
      ax.selectAll('.tick line').attr('stroke', '#222');
      ax.selectAll('.tick text')
          .attr('font-size', 6)
          .attr('fill', '#555')
          .attr('font-family', '"Liberation Sans", Arial, sans-serif')
          .attr('y', 4);
      // the right edge of the picture cuts the last column's "1"
      ax.selectAll('.tick')
          .filter(function(v) { return xa(v) > W - 4; })
          .select('text').remove();
    }

    // points
    cell.selectAll('circle')
        .data(d)
      .enter().append('circle')
        .attr('cx', function(v) { return x(v[0]); })
        .attr('cy', function(v) { return y(v[1]); })
        .attr('r', 2)
        .attr('fill', '#000');
  });

  g.append('text')
      .attr('x', p.tag.x).attr('y', p.tag.y)
      .attr('font-size', 46)
      .attr('fill', '#000')
      .text(panelNames[pi]);

  g.append('text')
      .attr('transform', 'translate(' + p.yLab.x + ',' + p.yLab.y + ') rotate(-90)')
      .attr('text-anchor', 'middle')
      .attr('font-size', 48)
      .attr('fill', '#000')
      .text(yTitles[pi]);

  g.append('text')
      .attr('x', p.xLab.x).attr('y', p.xLab.y)
      .attr('font-size', 48)
      .attr('fill', '#000')
      .text(xTitle);
});
</script>
</body>
</html>
